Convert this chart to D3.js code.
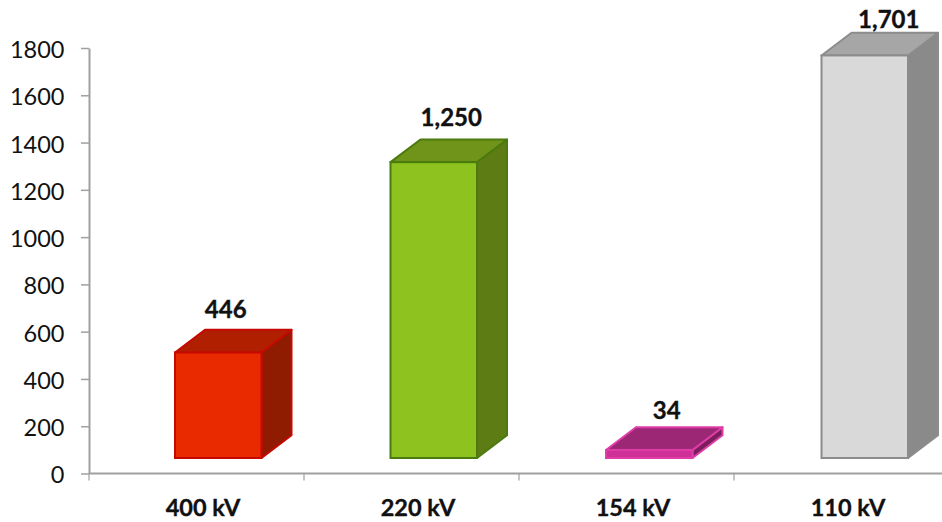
<!DOCTYPE html>
<html><head><meta charset="utf-8">
<script src="https://cdn.jsdelivr.net/npm/d3@7"></script>
<style>html,body{margin:0;padding:0;background:#fff}svg{display:block}</style>
</head><body><svg id="c" width="942" height="522"></svg>
<script>
const categories = ["400 kV","220 kV","154 kV","110 kV"];
const values = [446,1250,34,1701];
const valueLabels = ["446","1,250","34","1,701"];
const yTicks = [0,200,400,600,800,1000,1200,1400,1600,1800];
const frontColors = ["#E92900","#8DC21F","#CE3098","#D9D9D9"];
const topColors = ["#B01F00","#70941A","#9C2875","#A6A6A6"];
const sideColors = ["#8F1B00","#5D7D14","#7A1F5C","#8A8A8A"];
const strokeColors = ["#C40A00","#4B7A0E","#E03CA8","#8C8C8C"];
const labelDx = [7.5,17.5,17.5,24];
const labelGap = [12,13,8,5];

const svg = d3.select("#c");
const font = "Lato, Carlito, sans-serif";
const x = d3.scaleBand().domain(categories).range([89,949]);
const xBars = d3.scaleBand().domain(categories).range([89,951]);
const y = d3.scaleLinear().domain([0,1800]).range([473.5,48]);
const h = d3.scaleLinear().domain([0,1800]).range([0,426]);
const base = 15.5, dx = 30, dy = 22.7, barW = 86.5, barShift = 21.5;

const axisColor = "#A0A0A0";
const gy = svg.append("g").attr("transform","translate(89,0)")
  .call(d3.axisLeft(y).tickValues(yTicks).tickFormat(d=>d).tickSize(8).tickPadding(16.5).tickSizeOuter(0));
gy.select(".domain").attr("stroke",axisColor).attr("stroke-width",2);
gy.selectAll(".tick line").attr("stroke",axisColor).attr("stroke-width",1.5);
gy.selectAll("text").attr("font-family",font).attr("font-size",23.5).attr("fill","#111").attr("dy","0.36em").attr("transform","translate(0,1)");

const gx = svg.append("g").attr("transform","translate(0,473.5)");
gx.append("line").attr("x1",89).attr("x2",942).attr("stroke",axisColor).attr("stroke-width",2);
gx.selectAll("line.t").data(d3.range(categories.length+1)).join("line").attr("class","t")
  .attr("x1",i=>x.range()[0]+i*x.step()).attr("x2",i=>x.range()[0]+i*x.step())
  .attr("y1",0).attr("y2",7).attr("stroke",axisColor).attr("stroke-width",1.2);
gx.selectAll("text").data(categories).join("text")
  .attr("x",d=>x(d)+x.bandwidth()/2+6.5).attr("y",42).attr("text-anchor","middle")
  .attr("font-family",font).attr("font-size",23.5).attr("font-weight",700).attr("fill","#111")
  .attr("stroke","#111").attr("stroke-width",0.35).text(d=>d);

const bars = svg.append("g").selectAll("g").data(categories).join("g");
bars.each(function(c,i){
  const g = d3.select(this);
  const l = xBars(c)+xBars.bandwidth()/2+barShift-barW/2, r = l+barW;
  const b = y(0)-base, t = b-h(values[i]);
  const poly = pts=>pts.map(p=>p.join(",")).join(" ");
  const sw = 2;
  g.append("polygon").attr("points",poly([[r,b],[r+dx,b-dy],[r+dx,t-dy],[r,t]]))
    .attr("fill",sideColors[i]).attr("stroke",strokeColors[i]).attr("stroke-width",sw).attr("stroke-linejoin","round");
  g.append("polygon").attr("points",poly([[l,t],[l+dx,t-dy],[r+dx,t-dy],[r,t]]))
    .attr("fill",topColors[i]).attr("stroke",strokeColors[i]).attr("stroke-width",sw).attr("stroke-linejoin","round");
  g.append("rect").attr("x",l).attr("y",t).attr("width",barW).attr("height",b-t)
    .attr("fill",frontColors[i]).attr("stroke",strokeColors[i]).attr("stroke-width",sw);
  g.append("text").attr("x",(l+r)/2+labelDx[i]).attr("y",t-dy-labelGap[i])
    .attr("text-anchor","middle").attr("font-family",font).attr("font-size",24).attr("font-weight",700).attr("fill","#111")
    .attr("stroke","#111").attr("stroke-width",0.35).text(valueLabels[i]);
});
</script></body></html>
